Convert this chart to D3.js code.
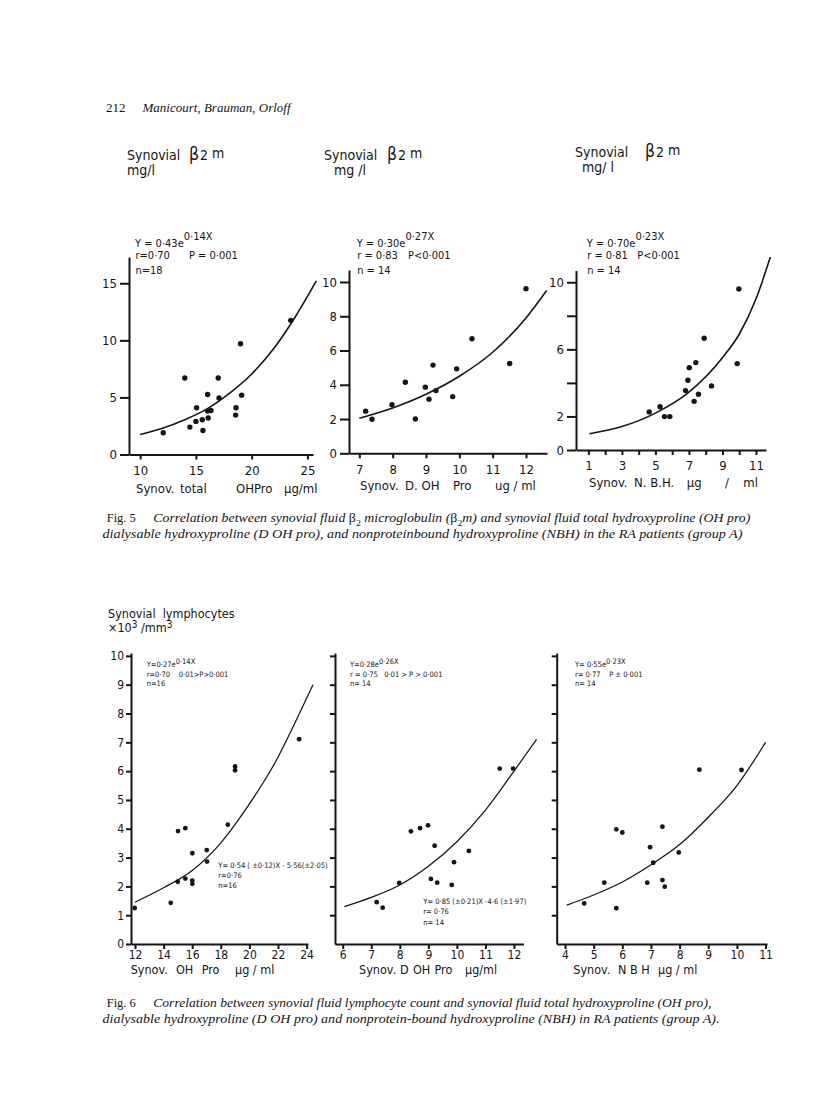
<!DOCTYPE html>
<html><head><meta charset="utf-8">
<script src="https://cdn.jsdelivr.net/npm/d3@7"></script>
<style>body{margin:0;background:#fff}svg{display:block}text{white-space:pre}</style>
</head><body>
<svg id="c" width="816" height="1099"></svg>
<script>
// ---------- Fig. 5 : synovial beta2-microglobulin (mg/l) ----------
const p1X = [12.07,14.0,14.46,15.06,15.0,15.57,15.63,16.05,16.05,16.35,16.1,17.0,17.07,18.6,18.56,19.0,19.1,23.5];
const p1Y = [1.9,6.7,2.4,4.1,2.9,3.05,2.1,5.25,3.8,3.85,3.2,6.7,4.95,4.1,3.45,9.7,5.2,11.75];
const fit1X = [10,12,14,16,18,20,22,24,25.8];
const fit1Y = [1.75,2.3,3.05,4.0,5.35,7.05,9.3,12.2,15.2];
const p1XTicks = [10,15,20,25], p1XLabels = [10,15,20,25];
const p1YTicks = [0,5,10,15],  p1YLabels = [0,5,10,15];

const p2X = [7.19,7.38,7.98,8.38,8.68,8.98,9.09,9.21,9.3,9.8,9.92,10.38,11.51,12.0];
const p2Y = [2.46,1.99,2.83,4.15,2.0,3.86,3.16,5.15,3.66,3.31,4.93,6.69,5.24,9.61];
const fit2X = [7,8,9,10,11,12,12.62];
const fit2Y = [2.05,2.65,3.45,4.5,5.9,7.9,9.5];
const p2XTicks = [7,8,9,10,11,12], p2XLabels = [7,8,9,10,11,12];
const p2YTicks = [0,2,4,6,8,10],   p2YLabels = [0,2,4,6,8,10];

const p3X = [4.63,5.28,5.54,5.86,6.8,6.94,7.02,7.31,7.41,7.57,7.91,8.35,9.88,9.98];
const p3Y = [2.27,2.58,1.99,1.99,3.54,4.16,4.91,2.9,5.21,3.32,6.66,3.82,5.15,9.6];
const fit3X = [1.06,3,5,7,9,10,11,11.86];
const fit3Y = [0.97,1.4,2.2,3.45,5.5,6.9,9.0,11.5];
const p3XTicks = [1,2,3,4,5,6,7,8,9,10,11], p3XLabels = [1,3,5,7,9,11];
const p3YTicks = [0,2,4,6,8,10], p3YLabels = [0,2,6,10];

// ---------- Fig. 6 : synovial lymphocytes (x10^3/mm^3) ----------
const p4X = [11.98,14.5,15.01,14.99,15.52,15.52,16.01,16.01,16.01,17.02,17.04,18.49,19.0,19.0,23.48];
const p4Y = [1.25,1.43,3.92,2.16,4.02,2.27,3.15,2.2,2.09,3.26,2.86,4.14,6.16,6.03,7.11];
const fit4X = [12,14,16,17.9,19.85,21.8,23.5,24.45];
const fit4Y = [1.45,1.95,2.55,3.45,4.75,6.3,8.0,9.0];
const p4XTicks = [12,14,16,18,20,22,24], p4XLabels = [12,14,16,18,20,22,24];
const lowYTicks = [0,1,2,3,4,5,6,7,8,9,10], p4YLabels = [0,1,2,3,4,5,6,7,8,9,10];

const p5X = [7.19,7.4,7.98,8.39,8.71,8.99,9.22,9.09,9.31,9.82,9.9,10.42,11.5,11.97];
const p5Y = [1.45,1.26,2.12,3.91,4.02,4.12,3.41,2.26,2.13,2.05,2.84,3.23,6.09,6.09];
const fit5X = [6.06,7,8,9,10,11,12,12.79];
const fit5Y = [1.3,1.62,2.05,2.7,3.55,4.65,6.0,7.1];
const p5XTicks = [6,7,8,9,10,11,12], p5XLabels = [6,7,8,9,10,11,12];

const p6X = [4.67,5.37,5.79,5.79,6.0,6.87,6.97,7.08,7.4,7.4,7.48,7.97,8.69,10.16];
const p6Y = [1.41,2.13,3.98,1.24,3.87,2.13,3.36,2.82,4.07,2.22,1.99,3.18,6.05,6.04];
const fit6X = [4.06,5,6,7,8,9,10,11];
const fit6Y = [1.35,1.7,2.15,2.75,3.45,4.4,5.5,7.0];
const p6XTicks = [4,5,6,7,8,9,10,11], p6XLabels = [4,5,6,7,8,9,10,11];

const SANS = '"DejaVu Sans Condensed","DejaVu Sans",sans-serif';
const SERIF = '"Liberation Serif","Times New Roman",serif';
const INK = '#151515';
const svg = d3.select('#c');

function rich(x, y, size, parts, opts) {
  opts = opts || {};
  const t = svg.append('text').attr('x', x).attr('y', y).attr('font-size', size)
    .attr('font-family', opts.family || SANS).attr('fill', INK);
  if (opts.italic) t.attr('font-style', 'italic');
  let off = 0;
  parts.forEach(p => {
    const s = t.append('tspan').text(p[0]);
    let want = 0;
    if (p[1] === 'sup') { want = -(opts.supShift || size * 0.5); if (opts.supSize) s.attr('font-size', opts.supSize); }
    if (p[1] === 'sub') { want = size * 0.3; s.attr('font-size', size * 0.72); }
    if (p[1] === 'up' || p[2] === 'up') s.attr('font-style', 'normal');
    if (want !== off) { s.attr('dy', want - off); off = want; }
  });
  if (opts.len) t.attr('textLength', opts.len).attr('lengthAdjust', 'spacingAndGlyphs');
  return t;
}

function panel(c) {
  const g = svg.append('g');
  const x = d3.scaleLinear().domain(c.xDom).range(c.xRange);
  const y = d3.scaleLinear().domain(c.yDom).range(c.yRange);
  const xa = d3.axisBottom(x).tickValues(c.xTicks).tickSize(c.txSize).tickSizeOuter(0)
    .tickPadding(c.xPad).tickFormat(d => c.xLabels.includes(d) ? String(d) : '');
  const ya = d3.axisLeft(y).tickValues(c.yTicks).tickSize(c.tySize).tickSizeOuter(0)
    .tickPadding(c.yPad).tickFormat(d => c.yLabels.includes(d) ? String(d) : '');
  const gx = g.append('g').attr('transform', `translate(0,${c.yRange[0]})`).call(xa);
  const gy = g.append('g').attr('transform', `translate(${c.xRange[0]},0)`).call(ya);
  [gx, gy].forEach(a => {
    a.selectAll('path,line').attr('stroke', INK).attr('stroke-width', c.axisW);
    a.selectAll('text').attr('fill', INK).attr('font-family', SANS).attr('font-size', c.tickFont);
  });
  gy.selectAll('.tick').filter(d => d === 0 && !c.yLabels.includes(0)).remove();
  const line = d3.line().x((d, i) => x(c.fitX[i])).y((d, i) => y(c.fitY[i]))
    .curve(d3.curveMonotoneX);
  g.append('path').attr('d', line(c.fitX)).attr('fill', 'none')
    .attr('stroke', INK).attr('stroke-width', c.fitW);
  g.selectAll('circle.pt').data(c.px).enter().append('circle').attr('class', 'pt')
    .attr('cx', d => x(d)).attr('cy', (d, i) => y(c.py[i])).attr('r', c.r).attr('fill', INK);
  c.title.forEach(s => rich(s[1], c.titleY, c.titleFont, [[s[0]]]));
}

// ---------- page header ----------
rich(106, 112, 13, [['212']], {family: SERIF});
rich(142.5, 112, 13, [['Manicourt, Brauman, Orloff']], {family: SERIF, italic: true});

// ---------- Fig. 5 panels ----------
const topCommon = {txSize: 5, tySize: 9, xPad: 6, yPad: 3, axisW: 2, fitW: 1.6, r: 2.7, tickFont: 13, titleFont: 13};
panel(Object.assign({}, topCommon, {
  xDom: [9.0, 25.5], xRange: [129, 313], yDom: [0, 17.3], yRange: [454.5, 257],
  xTicks: p1XTicks, xLabels: p1XLabels, yTicks: p1YTicks, yLabels: p1YLabels,
  px: p1X, py: p1Y, fitX: fit1X, fitY: fit1Y, titleY: 492.5,
  title: [['Synov.', 136], ['total', 180], ['OHPro', 236], ['\u00b5g/ml', 284]]
}));
panel(Object.assign({}, topCommon, {
  xDom: [6.69, 12.63], xRange: [349, 547], yDom: [0, 10.7], yRange: [453.3, 270],
  xTicks: p2XTicks, xLabels: p2XLabels, yTicks: p2YTicks, yLabels: p2YLabels,
  px: p2X, py: p2Y, fitX: fit2X, fitY: fit2Y, titleY: 490,
  title: [['Synov.', 360], ['D. OH', 405], ['Pro', 453], ['ug / ml', 495]]
}));
panel(Object.assign({}, topCommon, {
  xDom: [0.26, 11.6], xRange: [576, 766], yDom: [0, 10.7], yRange: [450, 270.5],
  xTicks: p3XTicks, xLabels: p3XLabels, yTicks: p3YTicks, yLabels: p3YLabels,
  px: p3X, py: p3Y, fitX: fit3X, fitY: fit3Y, titleY: 487,
  title: [['Synov.', 589], ['N. B.H.', 634], ['\u00b5g', 686.7], ['/', 725], ['ml', 743.3]]
}));

// y-axis headings Fig. 5
[[127, 160, 189, 'mg/l', 127], [324, 160, 387, 'mg /l', 334], [575, 157, 645, 'mg/ l', 582]].forEach(h => {
  rich(h[0], h[1], 14, [['Synovial']]);
  rich(h[2], h[1], 17.5, [['\u03b2']]);
  rich(h[2] + 11, h[1], 14, [['2']]);
  rich(h[2] + 23, h[1] - 2, 14, [['m']]);
  rich(h[4], h[1] + 14.5, 14, [[h[3]]]);
});

// equations Fig. 5
const eq5 = [
  [135, 'Y = 0\u00b743e', '0\u00b714X', 'r=0\u00b770', 'P = 0\u00b7001', 189, 'n=18'],
  [356.7, 'Y = 0\u00b730e', '0\u00b727X', 'r = 0\u00b783', 'P<0\u00b7001', 408, 'n = 14'],
  [586.7, 'Y = 0\u00b770e', '0\u00b723X', 'r = 0\u00b781', 'P<0\u00b7001', 637.3, 'n = 14']
];
eq5.forEach(e => {
  rich(e[0], 246.5, 11, [[e[1]], [e[2], 'sup']], {supShift: 6.5});
  rich(e[0] + 0.5, 258.5, 11, [[e[3]]]);
  rich(e[5], 258.5, 11, [[e[4]]]);
  rich(e[0] + 0.5, 274, 11, [[e[6]]]);
});

// caption Fig. 5
rich(106.7, 522, 12.5, [['Fig. 5']], {family: SERIF});
rich(153.3, 522, 12.5, [['Correlation between synovial fluid '], ['\u03b2', 'up'], ['2', 'sub', 'up'],
  [' microglobulin ('], ['\u03b2', 'up'], ['2', 'sub', 'up'], ['m) and synovial fluid total hydroxyproline (OH pro)']],
  {family: SERIF, italic: true, len: 597});
rich(102.5, 538, 12.5, [['dialysable hydroxyproline (D OH pro), and nonproteinbound hydroxyproline (NBH) in the RA patients (group A)']],
  {family: SERIF, italic: true, len: 640});

// ---------- Fig. 6 panels ----------
const lowCommon = {txSize: 5, tySize: 5, xPad: 1.5, yPad: 2, axisW: 2, fitW: 1.25, r: 2.4, tickFont: 12, titleFont: 12.5};
panel(Object.assign({}, lowCommon, {
  xDom: [11.72, 24.1], xRange: [131, 308], yDom: [0, 10.1], yRange: [944, 653],
  xTicks: p4XTicks, xLabels: p4XLabels, yTicks: lowYTicks, yLabels: p4YLabels,
  px: p4X, py: p4Y, fitX: fit4X, fitY: fit4Y, titleY: 974.3,
  title: [['Synov.', 130.7], ['OH', 176], ['Pro', 201.7], ['\u00b5g / ml', 235]]
}));
panel(Object.assign({}, lowCommon, {
  xDom: [5.73, 12.33], xRange: [335, 523.4], yDom: [0, 10.1], yRange: [944, 653],
  xTicks: p5XTicks, xLabels: p5XLabels, yTicks: lowYTicks, yLabels: [],
  px: p5X, py: p5Y, fitX: fit5X, fitY: fit5Y, titleY: 974.3,
  title: [['Synov.', 359], ['D', 400], ['OH', 413], ['Pro', 434.5], ['\u00b5g/ml', 465]]
}));
panel(Object.assign({}, lowCommon, {
  xDom: [3.71, 11.05], xRange: [556.7, 767], yDom: [0, 10.1], yRange: [944, 653],
  xTicks: p6XTicks, xLabels: p6XLabels, yTicks: lowYTicks, yLabels: [],
  px: p6X, py: p6Y, fitX: fit6X, fitY: fit6Y, titleY: 974.3,
  title: [['Synov.', 573.3], ['N B H', 618], ['\u00b5g / ml', 658]]
}));

// heading Fig. 6
rich(108, 617.5, 12.5, [['Synovial  lymphocytes']]);
rich(108, 632, 12.5, [['\u00d710'], ['3', 'sup'], [' /mm'], ['3', 'sup']], {supShift: 4, supSize: 10});

// equations Fig. 6
const eq6 = [
  [146.7, 'Y=0\u00b727e', '0\u00b714X', 'r=0\u00b770    0\u00b701>P>0\u00b7001', 'n=16'],
  [350, 'Y=0\u00b728e', '0\u00b726X', 'r = 0\u00b775   0\u00b701 > P > 0\u00b7001', 'n= 14'],
  [575, 'Y= 0\u00b755e', '0\u00b723X', 'r= 0\u00b777    P \u00b1 0\u00b7001', 'n= 14']
];
eq6.forEach(e => {
  rich(e[0], 666.5, 7.5, [[e[1]], [e[2], 'sup']], {supShift: 3});
  rich(e[0], 676.5, 7.5, [[e[3]]]);
  rich(e[0], 685.7, 7.5, [[e[4]]]);
});
const lin6 = [
  [218.3, 867.7, 'Y= 0\u00b754 ( \u00b10\u00b712)X - 5\u00b756(\u00b12\u00b705)', 'r=0\u00b776', 'n=16'],
  [423.3, 904.3, 'Y= 0\u00b785 (\u00b10\u00b721)X -4\u00b76 (\u00b11\u00b797)', 'r= 0\u00b776', 'n= 14']
];
lin6.forEach(e => {
  rich(e[0], e[1], 7.5, [[e[2]]]);
  rich(e[0], e[1] + 10, 7.5, [[e[3]]]);
  rich(e[0], e[1] + 20.5, 7.5, [[e[4]]]);
});

// caption Fig. 6
rich(106.7, 1007, 12.5, [['Fig. 6']], {family: SERIF});
rich(153.3, 1007, 12.5, [['Correlation between synovial fluid lymphocyte count and synovial fluid total hydroxyproline (OH pro),']],
  {family: SERIF, italic: true, len: 558});
rich(102.5, 1022.5, 12.5, [['dialysable hydroxyproline (D OH pro) and nonprotein-bound hydroxyproline (NBH) in RA patients (group A).']],
  {family: SERIF, italic: true, len: 617});
</script>
</body></html>
